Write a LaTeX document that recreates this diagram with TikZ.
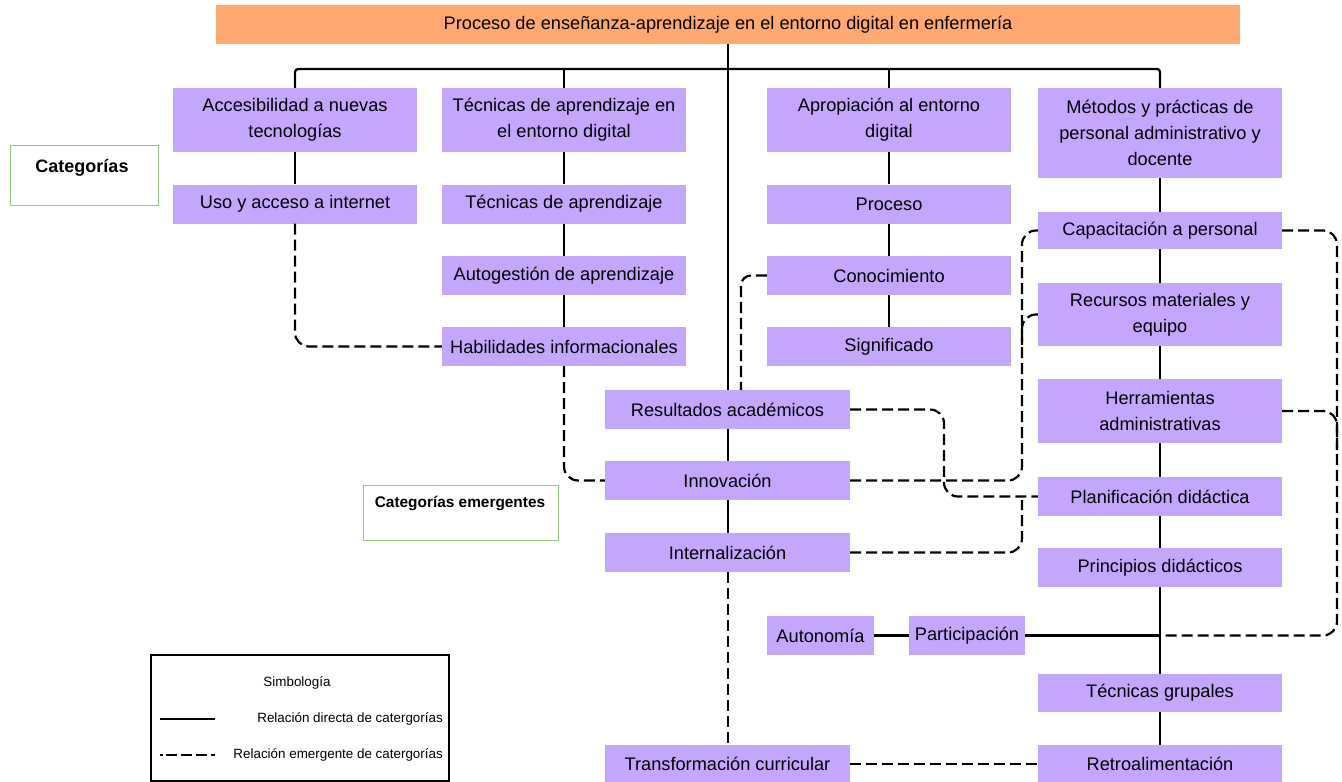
\documentclass[tikz,border=0pt]{standalone}
\usepackage{fontspec}
\setmainfont{Liberation Sans}
\definecolor{boxpurple}{RGB}{196,167,253}
\definecolor{titleorange}{RGB}{255,168,112}
\definecolor{catgreen}{RGB}{150,200,125}
\begin{document}
\begin{tikzpicture}[x=1pt,y=-1pt,
  box/.style={fill=boxpurple, minimum width=244pt, minimum height=39pt, inner sep=0pt, align=center, font=\fontsize{18.2}{26}\selectfont},
  direct/.style={line width=2.2pt, black},
  emer/.style={line width=2.2pt, black, dash pattern=on 11pt off 5pt, rounded corners=14pt},
  legtext/.style={font=\fontsize{13.4}{15}\selectfont, inner sep=0pt},
]
\useasboundingbox (0,0) rectangle (1342,782);

% title
\node[box, minimum width=1024pt, fill=titleorange] (title) at (728,24.5) {Proceso de enseñanza-aprendizaje en el entorno digital en enfermería};

% column 1
\node[box, minimum height=64pt] (acc) at (295,120) {Accesibilidad a nuevas\\tecnologías};
\node[box] (uso) at (295,204) {Uso y acceso a internet};

% column 2
\node[box, minimum height=64pt] (tec) at (564,120) {Técnicas de aprendizaje en\\el entorno digital};
\node[box] (teca) at (564,204) {Técnicas de aprendizaje};
\node[box] (autog) at (564,275.5) {Autogestión de aprendizaje};
\node[box] (hab) at (564,346.5) {Habilidades informacionales};

% column 3
\node[box, minimum height=64pt] (apro) at (889,120) {Apropiación al entorno\\digital};
\node[box] (proc) at (889,204) {Proceso};
\node[box] (cono) at (889,275.5) {Conocimiento};
\node[box] (sig) at (889,346.5) {Significado};

% column 4
\node[box, minimum height=90pt] (met) at (1160,133) {Métodos y prácticas de\\personal administrativo y\\docente};
\node[box, minimum height=37pt] (cap) at (1160,230.5) {Capacitación a personal};
\node[box, minimum height=63pt] (rec) at (1160,314.5) {Recursos materiales y\\equipo};
\node[box, minimum height=64pt] (herr) at (1160,411) {Herramientas\\administrativas};
\node[box] (plan) at (1160,496.5) {Planificación didáctica};
\node[box] (prin) at (1160,567.5) {Principios didácticos};
\node[box, minimum height=38pt] (tgru) at (1160,693) {Técnicas grupales};
\node[box, minimum height=38pt] (retro) at (1160,764) {Retroalimentación};

% center column
\node[box, minimum width=245pt] (res) at (727.5,409.5) {Resultados académicos};
\node[box, minimum width=245pt] (inno) at (727.5,480.5) {Innovación};
\node[box, minimum width=245pt] (inte) at (727.5,552.5) {Internalización};
\node[box, minimum width=245pt, minimum height=38pt] (trans) at (727.5,764) {Transformación curricular};

% autonomy / participation
\node[box, minimum width=107pt] (auton) at (820.5,635.5) {Autonomía};
\node[box, minimum width=116pt] (part) at (967,635.5) {Participación};

% legend boxes
\node[draw=catgreen, line width=1pt, minimum width=148pt, minimum height=60pt, inner sep=0pt] (catbox) at (84,175) {};
\node[font=\bfseries\fontsize{18}{18}\selectfont, inner sep=0pt] (cattext) at (82,168) {Categorías};
\node[draw=catgreen, line width=1pt, minimum width=195pt, minimum height=55pt, inner sep=0pt] (emerbox) at (460.5,512.5) {};
\node[font=\bfseries\fontsize{15.4}{16}\selectfont, inner sep=0pt] (emertext) at (460,503) {Categorías emergentes};

\node[draw, line width=2.8pt, minimum width=298pt, minimum height=126pt, inner sep=0pt] (legend) at (300,718) {};
\node[legtext] (simb) at (297,683) {Simbología};
\coordinate (l1a) at (160,719);
\coordinate (l1b) at (215,719);
\coordinate (l2a) at (160,755);
\coordinate (l2b) at (215,755);
\draw[direct] (l1a) -- (l1b);
\draw[line width=2.2pt, dash pattern=on 3pt off 3pt on 11pt off 4pt on 11pt off 4pt on 11pt off 4pt on 11pt] (l2a) -- (l2b);
\node[legtext, anchor=east] (rd) at (443,719) {Relación directa de catergorías};
\node[legtext, anchor=east] (re) at (443,755) {Relación emergente de catergorías};

% direct connectors
\coordinate (bar) at (728,69);
\draw[direct] (title.south -| bar) -- (res.north -| bar);
\draw[direct, rounded corners=3pt] (acc.north) |- (bar) -| (met.north);
\draw[direct] (tec.north) -- (tec.north |- bar);
\draw[direct] (apro.north) -- (apro.north |- bar);
\draw[direct] (acc) -- (uso);
\draw[direct] (tec) -- (teca) -- (autog) -- (hab);
\draw[direct] (apro) -- (proc) -- (cono) -- (sig);
\draw[direct] (met) -- (cap) -- (rec) -- (herr) -- (plan) -- (prin) -- (tgru) -- (retro);
\draw[direct] (res.south -| bar) -- (inno.north -| bar);
\draw[direct] (inno.south -| bar) -- (inte.north -| bar);
\draw[direct] (auton) -- (part);
\coordinate (pj) at (1160,635.5);
\draw[direct] (part.east) -- (pj);

% emergent connectors
\draw[emer] (inte.south -| bar) -- (trans.north -| bar);
\draw[emer] (uso.south) |- (hab.west);
\draw[emer] (hab.south) |- (inno.west);
\coordinate (cr) at (741,390);
\draw[emer, rounded corners=10pt] (cono.west) -| (cr);
\coordinate (sx) at (944,450);
\draw[emer] (res.east) -| (sx) |- (plan.west);
\coordinate (vx) at (1022,400);
\draw[emer] (inno.east) -| (vx) |- (cap.west);
\draw[emer] (rec.west) -| (1022,345);
\draw[emer] (inte.east) -| (1022,500);
\coordinate (rx) at (1337,430);
\draw[emer] (cap.east) -| (rx) |- (pj);
\draw[emer] (herr.east) -| (1337,450);
\draw[emer, rounded corners=0pt] (trans.east) -- (retro.west);
\end{tikzpicture}
\end{document}
